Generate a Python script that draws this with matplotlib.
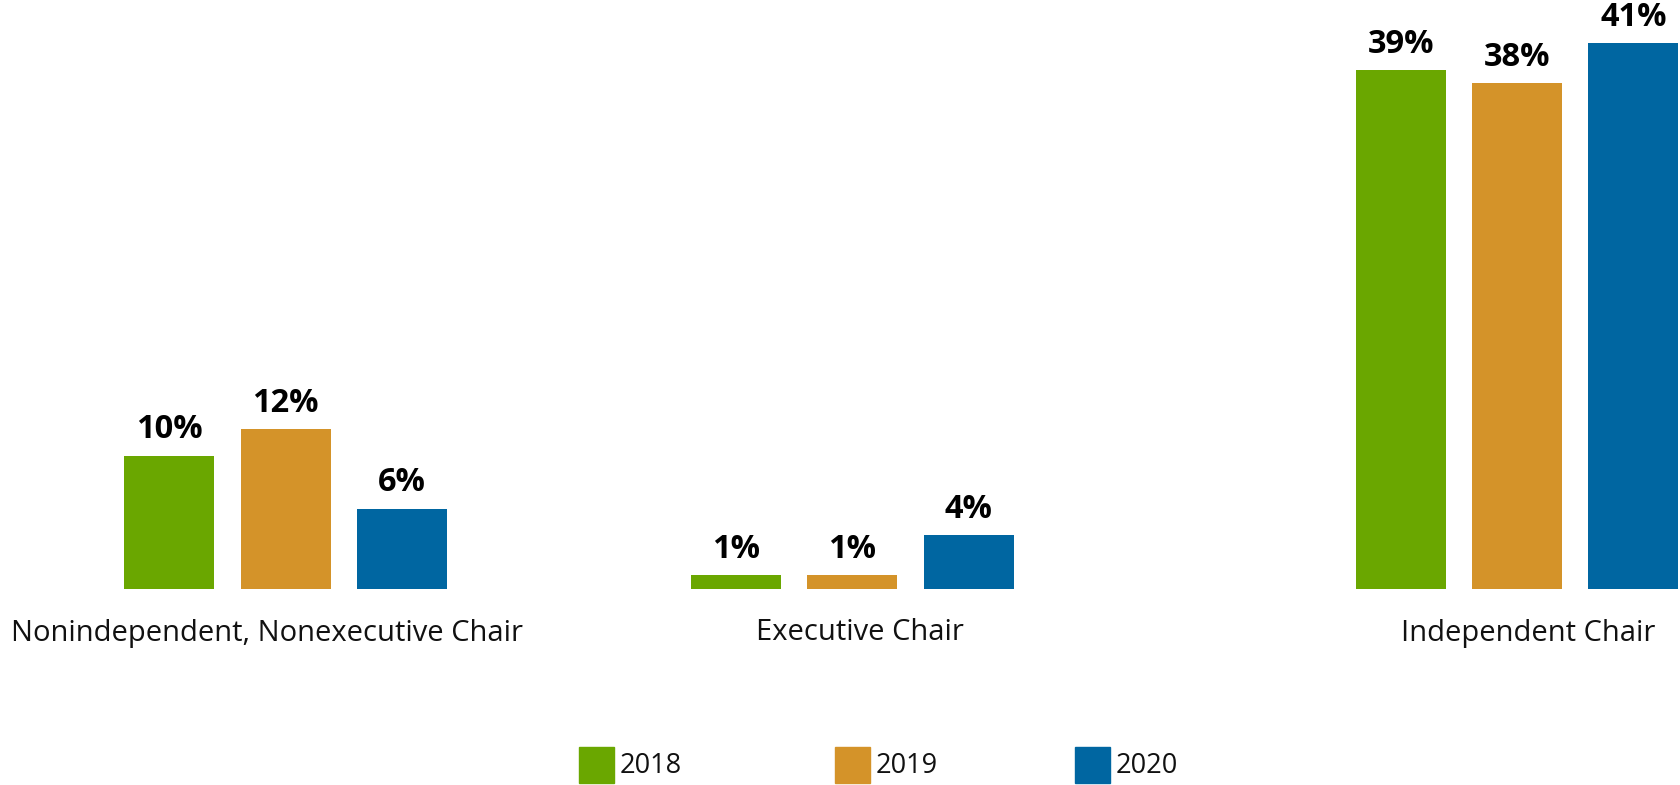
import matplotlib.pyplot as plt
from matplotlib.patches import Rectangle

plt.rcParams['font.family'] = ['Open Sans', 'DejaVu Sans']

categories = ['Nonindependent, Nonexecutive Chair', 'Executive Chair', 'Independent Chair']
years = ['2018', '2019', '2020']
values = {
    '2018': [10, 1, 39],
    '2019': [12, 1, 38],
    '2020': [6, 4, 41],
}
colors = ['#6AA700', '#D49329', '#0066A1']

W, H = 1681, 785
fig = plt.figure(figsize=(W / 100, H / 100), dpi=100)

# axes in pixel units horizontally, percent vertically
base_px = 588.6
ax = fig.add_axes([0, 1 - base_px / H, 1, base_px / H])
ax.set_xlim(0, W)
ax.set_ylim(0, base_px / 13.3)
ax.axis('off')

group_x = [285.7, 852.3, 1517.0]
label_x = [267.5, 860.0, 1528.0]
bar_w = 90
pitch = 116.3

for i, yr in enumerate(years):
    xs = [g + (i - 1) * pitch for g in group_x]
    bars = ax.bar(xs, values[yr], width=bar_w, color=colors[i])
    for b, v in zip(bars, values[yr]):
        ax.annotate(f'{v}%', (b.get_x() + b.get_width() / 2, v),
                    xytext=(0, 12.5), textcoords='offset points',
                    ha='center', va='baseline', fontsize=23.5,
                    fontweight='bold', color='black')

for x, name in zip(label_x, categories):
    fig.text(x / W, 1 - 633 / H, name, ha='center', va='center',
             fontsize=21, color='#111111')

# legend drawn by hand
sq_x = [579, 835, 1075]
for x, yr, c in zip(sq_x, years, colors):
    fig.add_artist(Rectangle((x / W, 1 - 783 / H), 35 / W, 36 / H,
                             transform=fig.transFigure, color=c))
    fig.text((x + 41) / W, 1 - 766 / H, yr, ha='left', va='center',
             fontsize=19.5, color='#111111')

fig.savefig('out.png', dpi=100)
